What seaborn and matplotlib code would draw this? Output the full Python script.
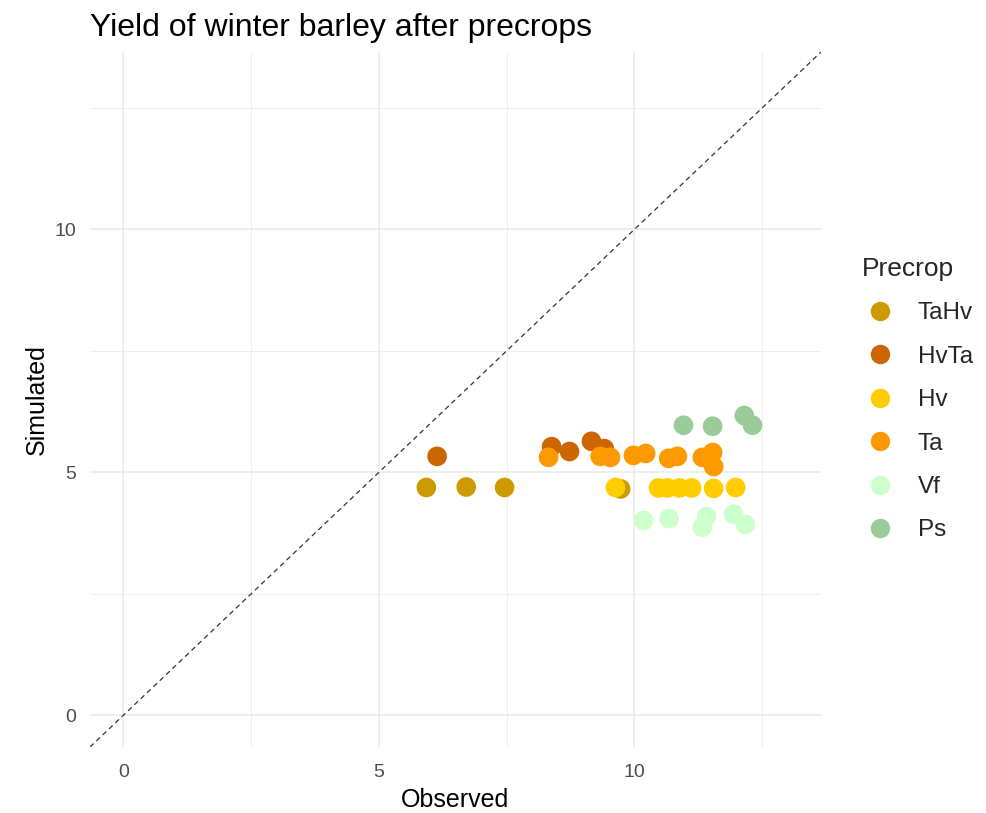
import numpy as np
import pandas as pd
import matplotlib
matplotlib.use("Agg")
import matplotlib.pyplot as plt
import seaborn as sns

# Data
tahv_x = [5.93, 6.71, 7.46, 9.73]
tahv_y = [4.69, 4.70, 4.69, 4.66]
hvta_x = [6.14, 8.38, 8.73, 9.16, 9.41]
hvta_y = [5.33, 5.53, 5.43, 5.64, 5.49]
hv_x = [9.63, 10.47, 10.65, 10.88, 11.12, 11.55, 11.98]
hv_y = [4.69, 4.68, 4.68, 4.68, 4.68, 4.67, 4.69]
ta_x = [8.32, 9.33, 9.53, 9.98, 10.22, 10.67, 10.84, 11.33, 11.53, 11.55]
ta_y = [5.31, 5.33, 5.31, 5.35, 5.39, 5.29, 5.33, 5.31, 5.41, 5.12]
vf_x = [10.18, 10.68, 11.41, 11.33, 11.94, 12.17]
vf_y = [4.01, 4.05, 4.09, 3.87, 4.14, 3.93]
ps_x = [10.96, 11.53, 12.15, 12.31]
ps_y = [5.97, 5.95, 6.17, 5.97]

categories = ["TaHv", "HvTa", "Hv", "Ta", "Vf", "Ps"]
colors = ["#CD9B00", "#CC6600", "#FFCC00", "#FF9900", "#CCFFCC", "#99CC99"]

xs = [tahv_x, hvta_x, hv_x, ta_x, vf_x, ps_x]
ys = [tahv_y, hvta_y, hv_y, ta_y, vf_y, ps_y]
rows = []
for c, xv, yv in zip(categories, xs, ys):
    for a, b in zip(xv, yv):
        rows.append({"Observed": a, "Simulated": b, "Precrop": c})
df = pd.DataFrame(rows)

sns.set_style("white")
plt.rcParams['font.family'] = ['Liberation Sans', 'DejaVu Sans']

W, H = 986, 813
fig = plt.figure(figsize=(W / 100, H / 100), dpi=100)
ax = fig.add_axes([90 / W, 1 - 747 / H, 731 / W, 695 / H])

lim = (-0.65, 13.65)
ax.set_xlim(lim)
ax.set_ylim(lim)

for v in [2.5, 7.5, 12.5]:
    ax.axvline(v, color="#EBEBEB", lw=0.6, zorder=0)
    ax.axhline(v, color="#EBEBEB", lw=0.6, zorder=0)
for v in [0, 5, 10]:
    ax.axvline(v, color="#EBEBEB", lw=1.2, zorder=0)
    ax.axhline(v, color="#EBEBEB", lw=1.2, zorder=0)

ax.plot(lim, lim, ls=(0, (4, 3)), color="#333333", lw=0.9, zorder=1)

sns.scatterplot(data=df, x="Observed", y="Simulated", hue="Precrop",
                hue_order=categories, palette=colors, s=200, linewidth=0,
                ax=ax, zorder=3, legend=False)

for s in ax.spines.values():
    s.set_visible(False)
ax.set_xticks([0, 5, 10])
ax.set_yticks([0, 5, 10])
ax.tick_params(axis="both", length=0, labelsize=14, colors="#4D4D4D")
ax.tick_params(axis="x", pad=12)
ax.tick_params(axis="y", pad=10)
ax.set_xlabel("Observed", fontsize=18, color="black", labelpad=5)
ax.set_ylabel("Simulated", fontsize=18, color="black", labelpad=4)
fig.text(90 / W, 1 - 36 / H, "Yield of winter barley after precrops",
         fontsize=23, color="black", ha="left", va="baseline")

handles = [plt.Line2D([], [], marker="o", ls="", color=c, markersize=14,
                      markeredgewidth=0) for c in colors]
leg = fig.legend(handles, categories, title="Precrop", loc="upper left",
                 bbox_to_anchor=(862 / W, 1 - 257 / H), frameon=False,
                 fontsize=17.5, title_fontsize=19, labelspacing=0.88,
                 handlelength=1.48, handletextpad=0.82, borderpad=0,
                 borderaxespad=0)
leg._legend_box.align = "left"

fig.savefig("out.png", dpi=100)
